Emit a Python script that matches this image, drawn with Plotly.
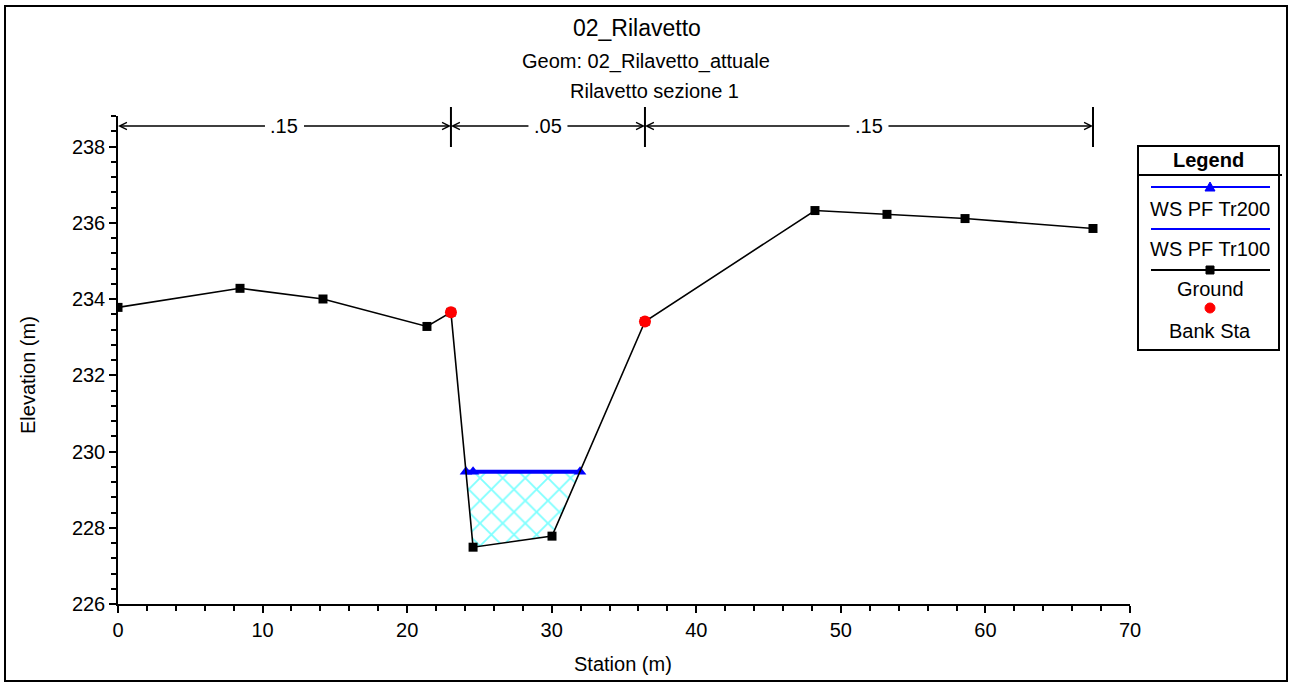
import plotly.graph_objects as go

# ---------------- data ----------------
stations = [0.0, 8.44, 14.18, 21.37, 23.03, 24.56, 30.02, 36.45, 48.21, 53.19, 58.59, 67.44]
ground = [233.78, 234.28, 234.00, 233.28, 233.65, 227.49, 227.78, 233.41, 236.32, 236.22, 236.11, 235.85]
bank_sta = [23.03, 36.45]
bank_elev = [233.65, 233.41]
ws_elev = 229.47
ws_sta = [24.07, 24.56, 31.96]
fill_sta = [24.07, 24.56, 30.02, 31.96]
fill_elev = [229.47, 227.49, 227.78, 229.47]
mann_breaks = [0.0, 23.03, 36.45, 67.44]
mann_labels = [".15", ".05", ".15"]
x_range = [0, 70]
y_range = [226, 238.8]

FONT = "Arial, 'Liberation Sans', sans-serif"
FS = 20
W, H = 1290, 682
ML, MR, MT, MB = 118, 160, 116, 78
PW = W - ML - MR
PH = H - MT - MB


def px(xp):
    return (xp - ML) / PW


def py(yp):
    return (H - MB - yp) / PH


def sx(s):
    return (s - x_range[0]) / (x_range[1] - x_range[0])


def txt(text, xp, yp, size=FS, **kw):
    d = dict(text=text, x=px(xp), y=py(yp), xref="paper", yref="paper",
             xanchor="center", yanchor="middle", showarrow=False,
             font=dict(family=FONT, size=size, color="black"))
    d.update(kw)
    return d


fig = go.Figure()

# water fill with cross-hatch
fig.add_trace(go.Scatter(
    x=fill_sta + [fill_sta[0]], y=fill_elev + [fill_elev[0]],
    mode="lines", fill="toself", line=dict(width=0), fillcolor="white",
    fillpattern=dict(shape="x", fgcolor="#00FFFF", bgcolor="white", size=16, solidity=0.22),
    hoverinfo="skip", showlegend=False))

# WS Tr100
fig.add_trace(go.Scatter(
    x=[ws_sta[0], ws_sta[-1]], y=[ws_elev, ws_elev], mode="lines",
    line=dict(color="#0000FF", width=4), name="WS PF Tr100", showlegend=False))
# WS Tr200
fig.add_trace(go.Scatter(
    x=ws_sta, y=[ws_elev] * len(ws_sta), mode="lines+markers",
    line=dict(color="#0000FF", width=2),
    marker=dict(symbol="triangle-up", size=11, color="#0000FF"),
    name="WS PF Tr200", showlegend=False))

# Ground
fig.add_trace(go.Scatter(
    x=stations, y=ground, mode="lines+markers",
    line=dict(color="black", width=1.6),
    marker=dict(symbol="square", size=9, color="black"),
    name="Ground", showlegend=False))

# Bank stations
fig.add_trace(go.Scatter(
    x=bank_sta, y=bank_elev, mode="markers",
    marker=dict(symbol="circle", size=12, color="#FF0000"),
    name="Bank Sta", showlegend=False))

shapes = []
annotations = []

# Manning's n dimension lines
y_arrow = py(126)
for b in mann_breaks[1:]:
    shapes.append(dict(type="line", xref="paper", yref="paper",
                       x0=sx(b), x1=sx(b), y0=py(147), y1=py(107),
                       line=dict(color="black", width=2)))
for i, lab in enumerate(mann_labels):
    a, b = mann_breaks[i], mann_breaks[i + 1]
    m = (a + b) / 2
    for k, tip in enumerate((a, b)):
        annotations.append(dict(
            x=tip, y=y_arrow, xref="x", yref="paper",
            ax=m, ay=0, axref="x", ayref="pixel",
            xanchor="center", yanchor="middle",
            text=lab, showarrow=True, arrowhead=5, arrowsize=0.9, arrowwidth=1.6,
            arrowcolor="black", borderpad=5, standoff=0,
            font=dict(family=FONT, size=FS, color="black" if k == 0 else "rgba(0,0,0,0)")))

# Titles and axis titles
annotations += [
    txt("02_Rilavetto", 637, 28, size=23),
    txt("Geom: 02_Rilavetto_attuale", 646, 61),
    txt("Rilavetto sezione 1", 654, 91),
    txt("Elevation (m)", 28, 375, textangle=-90),
    txt("Station (m)", 623, 664),
]

# Outer frame
shapes.append(dict(type="rect", xref="paper", yref="paper",
                   x0=px(5), x1=px(1287), y0=py(681), y1=py(6),
                   line=dict(color="black", width=2)))

# Custom legend
L, R, T, B = 1138, 1279, 146, 350
shapes.append(dict(type="rect", xref="paper", yref="paper",
                   x0=px(L), x1=px(R), y0=py(B), y1=py(T),
                   line=dict(color="black", width=2), fillcolor="white"))
shapes.append(dict(type="line", xref="paper", yref="paper",
                   x0=px(L), x1=px(1282), y0=py(175), y1=py(175),
                   line=dict(color="black", width=2)))
annotations.append(txt("<b>Legend</b>", 1208, 160))
cx = 1210
lx0, lx1 = 1151, 1270
# Tr200
shapes.append(dict(type="line", xref="paper", yref="paper", x0=px(lx0), x1=px(lx1),
                   y0=py(187), y1=py(187), line=dict(color="#0000FF", width=2)))
shapes.append(dict(type="path", xref="paper", yref="paper",
                   path=f"M {px(cx-5)},{py(191)} L {px(cx+5)},{py(191)} L {px(cx)},{py(182)} Z",
                   fillcolor="#0000FF", line=dict(color="#0000FF", width=1)))
annotations.append(txt("WS PF Tr200", cx, 209))
# Tr100
shapes.append(dict(type="line", xref="paper", yref="paper", x0=px(lx0), x1=px(lx1),
                   y0=py(229), y1=py(229), line=dict(color="#0000FF", width=2)))
annotations.append(txt("WS PF Tr100", cx, 249))
# Ground
shapes.append(dict(type="line", xref="paper", yref="paper", x0=px(lx0), x1=px(lx1),
                   y0=py(270), y1=py(270), line=dict(color="black", width=2)))
shapes.append(dict(type="rect", xref="paper", yref="paper", x0=px(cx-4), x1=px(cx+4),
                   y0=py(274), y1=py(266), fillcolor="black", line=dict(color="black", width=1)))
annotations.append(txt("Ground", cx, 289))
# Bank Sta
shapes.append(dict(type="circle", xref="paper", yref="paper", x0=px(cx-5), x1=px(cx+5),
                   y0=py(313), y1=py(303), fillcolor="#FF0000", line=dict(color="#FF0000", width=1)))
annotations.append(txt("Bank Sta", cx, 331))

axis_common = dict(showgrid=False, zeroline=False, showline=True, linecolor="black", linewidth=1.5,
                   ticks="outside", ticklen=7, tickwidth=1.5, tickcolor="black",
                   tickfont=dict(family=FONT, size=FS, color="black"))

fig.update_layout(
    width=W, height=H, autosize=False,
    margin=dict(l=ML, r=MR, t=MT, b=MB),
    paper_bgcolor="white", plot_bgcolor="white",
    showlegend=False,
    font=dict(family=FONT, size=FS, color="black"),
    shapes=shapes, annotations=annotations,
    xaxis=dict(range=x_range, dtick=10, tick0=0,
               minor=dict(dtick=2, ticks="outside", ticklen=5, tickwidth=1.5, tickcolor="black"),
               **axis_common),
    yaxis=dict(range=y_range, dtick=2, tick0=226,
               minor=dict(dtick=0.4, tick0=226, ticks="outside", ticklen=5, tickwidth=1.5, tickcolor="black"),
               **axis_common),
)

fig.write_html("out.html", config={"displayModeBar": False},
               post_script="document.body.style.margin='0px';document.body.style.overflow='hidden';")
